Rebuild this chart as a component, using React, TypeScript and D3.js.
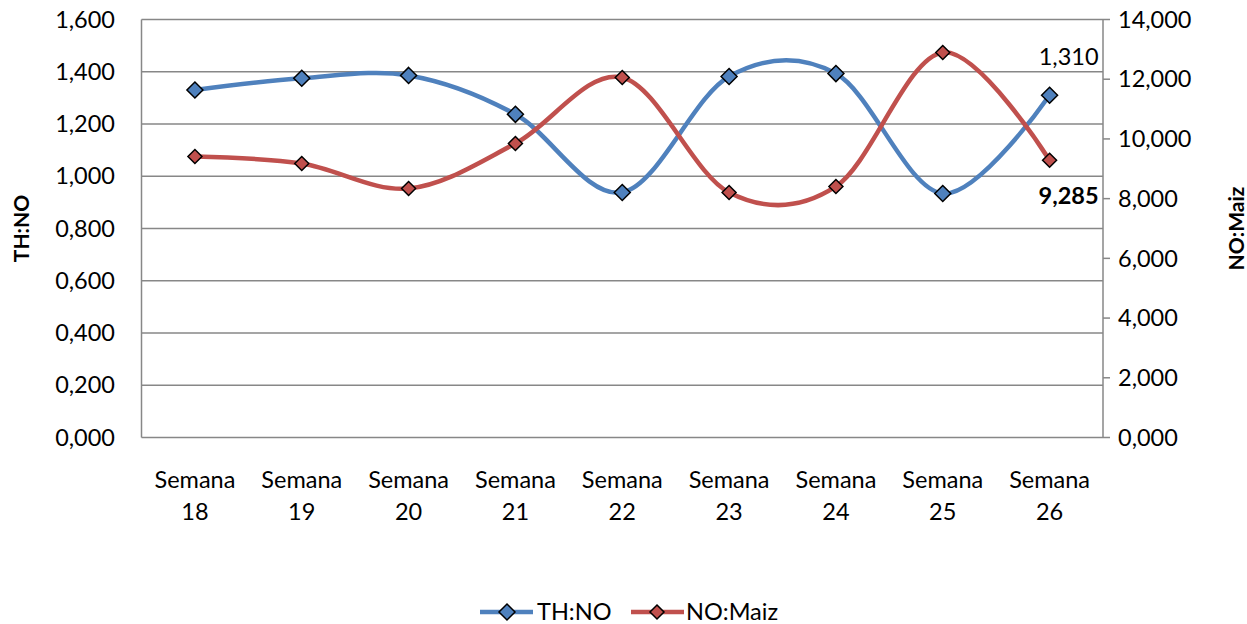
import React from "react";
import * as d3 from "d3";

const categories = ["Semana 18", "Semana 19", "Semana 20", "Semana 21", "Semana 22", "Semana 23", "Semana 24", "Semana 25", "Semana 26"];
const thNo = [1.33, 1.375, 1.386, 1.237, 0.938, 1.382, 1.393, 0.934, 1.31];
const noMaiz = [9411, 9177, 8340, 9847, 12057, 8206, 8407, 12895, 9285];
const leftTicks = [0, 0.2, 0.4, 0.6, 0.8, 1.0, 1.2, 1.4, 1.6];
const rightTicks = [0, 2000, 4000, 6000, 8000, 10000, 12000, 14000];

const W = 1247, H = 624;
const left = 141.5, right = 1103, top = 19.5, bottom = 437.5;
const BLUE = "#4F81BD", RED = "#C0504D", GRID = "#878787";
const FONT = "Lato, 'Open Sans', sans-serif";
const FS = 23.5;

const fmtLeft = (v: number) => v.toFixed(3).replace(".", ",");
const fmtRight = (v: number) => d3.format(",")(v).replace(/^0$/, "0,000");

export default function App() {
  const x = d3.scaleBand<string>().domain(categories).range([left, right]);
  const cx = (c: string) => (x(c) as number) + x.bandwidth() / 2;
  const yL = d3.scaleLinear().domain([0, 1.6]).range([bottom, top]);
  const yR = d3.scaleLinear().domain([0, 14000]).range([bottom, top]);
  const curve = d3.curveCardinal.tension(0);
  const lineL = d3.line<number>().x((_, i) => cx(categories[i])).y((d) => yL(d)).curve(curve);
  const lineR = d3.line<number>().x((_, i) => cx(categories[i])).y((d) => yR(d)).curve(curve);
  const diamond = (px: number, py: number, r: number) => `M${px},${py - r}L${px + r},${py}L${px},${py + r}L${px - r},${py}Z`;
  const lastX = cx(categories[categories.length - 1]);
  return (
    <svg width={W} height={H} style={{ position: "absolute", left: 0, top: 0, background: "#fff" }} fontFamily={FONT}>
      <rect width={W} height={H} fill="#fff" />
      {leftTicks.map((t) => (
        <line key={"g" + t} x1={left} x2={right} y1={yL(t)} y2={yL(t)} stroke={GRID} strokeWidth={1.5} />
      ))}
      <line x1={left} x2={left} y1={top} y2={bottom} stroke={GRID} strokeWidth={1.5} />
      <line x1={right} x2={right} y1={top} y2={bottom} stroke={GRID} strokeWidth={1.5} />
      {rightTicks.map((t) => (
        <line key={"rt" + t} x1={right} x2={right + 7} y1={yR(t)} y2={yR(t)} stroke={GRID} strokeWidth={1.5} />
      ))}
      {leftTicks.map((t) => (
        <text key={"lt" + t} x={115} y={yL(t)} dy="0.35em" textAnchor="end" fontSize={FS} fill="#000">
          {fmtLeft(t)}
        </text>
      ))}
      {rightTicks.map((t) => (
        <text key={"rl" + t} x={1118} y={yR(t)} dy="0.35em" textAnchor="start" fontSize={FS} fill="#000">
          {fmtRight(t)}
        </text>
      ))}
      {categories.map((c) => {
        const [a, b] = c.split(" ");
        return (
          <text key={c} x={cx(c)} textAnchor="middle" fontSize={FS} fill="#000">
            <tspan x={cx(c)} y={488}>{a}</tspan>
            <tspan x={cx(c)} y={520}>{b}</tspan>
          </text>
        );
      })}
      <text transform={`translate(29,${(top + bottom) / 2}) rotate(-90)`} textAnchor="middle" fontSize={21} fontWeight="bold">TH:NO</text>
      <text transform={`translate(1244,${(top + bottom) / 2}) rotate(-90)`} textAnchor="middle" fontSize={21} fontWeight="bold">NO:Maiz</text>
      <path d={lineL(thNo) || ""} fill="none" stroke={BLUE} strokeWidth={4.5} strokeLinejoin="round" />
      <path d={lineR(noMaiz) || ""} fill="none" stroke={RED} strokeWidth={4.5} strokeLinejoin="round" />
      {thNo.map((v, i) => (
        <path key={"mb" + i} d={diamond(cx(categories[i]), yL(v), 8)} fill={BLUE} stroke="#000" strokeWidth={1.5} />
      ))}
      {noMaiz.map((v, i) => (
        <path key={"mr" + i} d={diamond(cx(categories[i]), yR(v), 7)} fill={RED} stroke="#000" strokeWidth={1.5} />
      ))}
      <text x={lastX + 49} y={yL(thNo[8]) - 30} textAnchor="end" fontSize={FS}>{fmtLeft(thNo[8])}</text>
      <text x={lastX + 49} y={yR(noMaiz[8]) + 44} textAnchor="end" fontSize={FS} fontWeight="bold">{d3.format(",")(noMaiz[8])}</text>
      <g>
        <line x1={480} x2={533} y1={612} y2={612} stroke={BLUE} strokeWidth={4.5} />
        <path d={diamond(507, 612, 8)} fill={BLUE} stroke="#000" strokeWidth={1.5} />
        <text x={537} y={612} dy="0.35em" fontSize={FS}>TH:NO</text>
        <line x1={631} x2={684} y1={612} y2={612} stroke={RED} strokeWidth={4.5} />
        <path d={diamond(657, 612, 7)} fill={RED} stroke="#000" strokeWidth={1.5} />
        <text x={686} y={612} dy="0.35em" fontSize={FS}>NO:Maiz</text>
      </g>
    </svg>
  );
}
